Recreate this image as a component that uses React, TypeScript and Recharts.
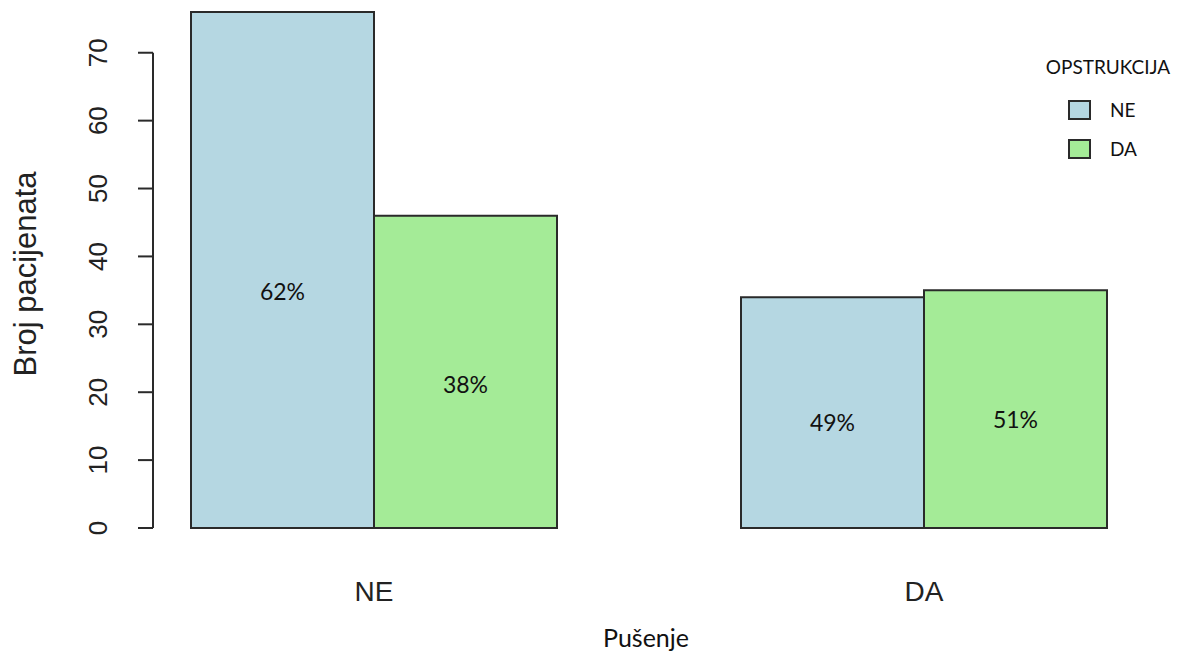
import React from 'react';
import { BarChart, Bar, XAxis, YAxis, LabelList, Legend } from 'recharts';

// Pušenje (smoking) groups on the x axis
const smokingGroups = ['NE', 'DA'];
// OPSTRUKCIJA series, patient counts per smoking group
const seriesNames = ['NE', 'DA'];
const obstructionNo = [76, 34];
const obstructionYes = [46, 35];
const yTicks = [0, 10, 20, 30, 40, 50, 60, 70];

const data = smokingGroups.map((name, i) => {
  const total = obstructionNo[i] + obstructionYes[i];
  return {
    name,
    ne: obstructionNo[i],
    da: obstructionYes[i],
    nePct: `${Math.round((obstructionNo[i] / total) * 100)}%`,
    daPct: `${Math.round((obstructionYes[i] / total) * 100)}%`,
  };
});

const WIDTH = 1179;
const HEIGHT = 657;
const TOP = 12;
const X_AXIS_H = 129;
const PLOT_H = HEIGHT - TOP - X_AXIS_H;
const Y_MAX = Math.max(...obstructionNo, ...obstructionYes);
const LAST_TICK = yTicks[yTicks.length - 1];
const axisGap = (PLOT_H * (Y_MAX - LAST_TICK)) / Y_MAX;

const BLUE = '#b5d7e2';
const GREEN = '#a4eb97';
const EDGE = '#2a2a2a';
const R_FONT = '"Liberation Sans", Arial, sans-serif';
const OFFICE_FONT = 'Lato, "Open Sans", sans-serif';

const YTick = (props: any) => {
  const { x, y, payload } = props;
  const cx = x - 38;
  return (
    <text
      x={cx}
      y={y}
      transform={`rotate(-90 ${cx} ${y})`}
      textAnchor="middle"
      dominantBaseline="central"
      fontFamily={R_FONT}
      fontSize={26}
      fill="#222"
    >
      {payload.value}
    </text>
  );
};

const XTick = (props: any) => {
  const { x, y, payload } = props;
  return (
    <text
      x={x}
      y={y + 63}
      textAnchor="middle"
      dominantBaseline="central"
      fontFamily={R_FONT}
      fontSize={28}
      fill="#222"
    >
      {payload.value}
    </text>
  );
};

const PctLabel = (props: any) => {
  const box = props.viewBox ?? props;
  const { x, y, width, height } = box;
  return (
    <text
      x={x + width / 2}
      y={y + height * 0.54}
      textAnchor="middle"
      dominantBaseline="central"
      fontFamily={OFFICE_FONT}
      fontSize={23}
      fill="#111"
    >
      {props.value}
    </text>
  );
};

const YTitle = (props: any) => {
  const vb = props.viewBox;
  const cx = 25;
  const cy = vb.y + vb.height / 2 + 4;
  return (
    <text
      x={cx}
      y={cy}
      transform={`rotate(-90 ${cx} ${cy})`}
      textAnchor="middle"
      dominantBaseline="central"
      fontFamily={R_FONT}
      fontSize={31}
      fill="#222"
    >
      Broj pacijenata
    </text>
  );
};

const renderLegend = (props: any) => {
  const items = [...(props.payload || [])].sort(
    (a: any, b: any) => seriesNames.indexOf(a.value) - seriesNames.indexOf(b.value)
  );
  return (
    <div style={{ position: 'relative', width: 139, height: 120, fontFamily: OFFICE_FONT, color: '#111' }}>
      <div style={{ position: 'absolute', left: 0, top: 3, width: 136, textAlign: 'center', fontSize: 19 }}>
        OPSTRUKCIJA
      </div>
      {items.map((item: any, i: number) => (
        <div
          key={item.value}
          style={{ position: 'absolute', left: 28, top: 46 + i * 39, display: 'flex', alignItems: 'center' }}
        >
          <div
            style={{
              width: 19,
              height: 16,
              background: item.color,
              border: `2px solid ${EDGE}`,
            }}
          />
          <span style={{ marginLeft: 19, fontSize: 19 }}>{item.value}</span>
        </div>
      ))}
    </div>
  );
};

export default function App() {
  return (
    <div style={{ position: 'absolute', left: 0, top: 0, width: WIDTH, height: HEIGHT, background: '#fff' }}>
      <BarChart
        width={WIDTH}
        height={HEIGHT}
        data={data}
        margin={{ top: TOP, right: 0, bottom: 0, left: 0 }}
        barGap={0}
        barCategoryGap={92}
      >
        <XAxis
          dataKey="name"
          height={X_AXIS_H}
          padding={{ left: -54, right: -20 }}
          axisLine={false}
          tickLine={false}
          tickSize={0}
          tickMargin={0}
          tick={<XTick />}
          label={{
            value: 'Pušenje',
            position: 'insideBottom',
            offset: 10,
            dx: -20,
            style: { fontFamily: OFFICE_FONT, fontSize: 25, fill: '#111' },
          }}
        />
        <YAxis
          width={153}
          domain={[0, 'dataMax']}
          ticks={yTicks}
          interval={0}
          tickSize={15}
          tickMargin={2}
          axisLine={{ stroke: EDGE, strokeWidth: 2, strokeDasharray: `0 ${axisGap} ${PLOT_H - axisGap} 2000` }}
          tickLine={{ stroke: EDGE, strokeWidth: 2 }}
          tick={<YTick />}
          label={{ content: <YTitle /> }}
        />
        <Legend
          layout="horizontal"
          verticalAlign="middle"
          align="center"
          content={renderLegend}
          wrapperStyle={{ position: 'absolute', left: 1040, top: 52, width: 139, height: 120 }}
        />
        <Bar dataKey="ne" name={seriesNames[0]} fill={BLUE} stroke={EDGE} strokeWidth={2} isAnimationActive={false}>
          <LabelList dataKey="nePct" content={<PctLabel />} />
        </Bar>
        <Bar dataKey="da" name={seriesNames[1]} fill={GREEN} stroke={EDGE} strokeWidth={2} isAnimationActive={false}>
          <LabelList dataKey="daPct" content={<PctLabel />} />
        </Bar>
      </BarChart>
    </div>
  );
}
